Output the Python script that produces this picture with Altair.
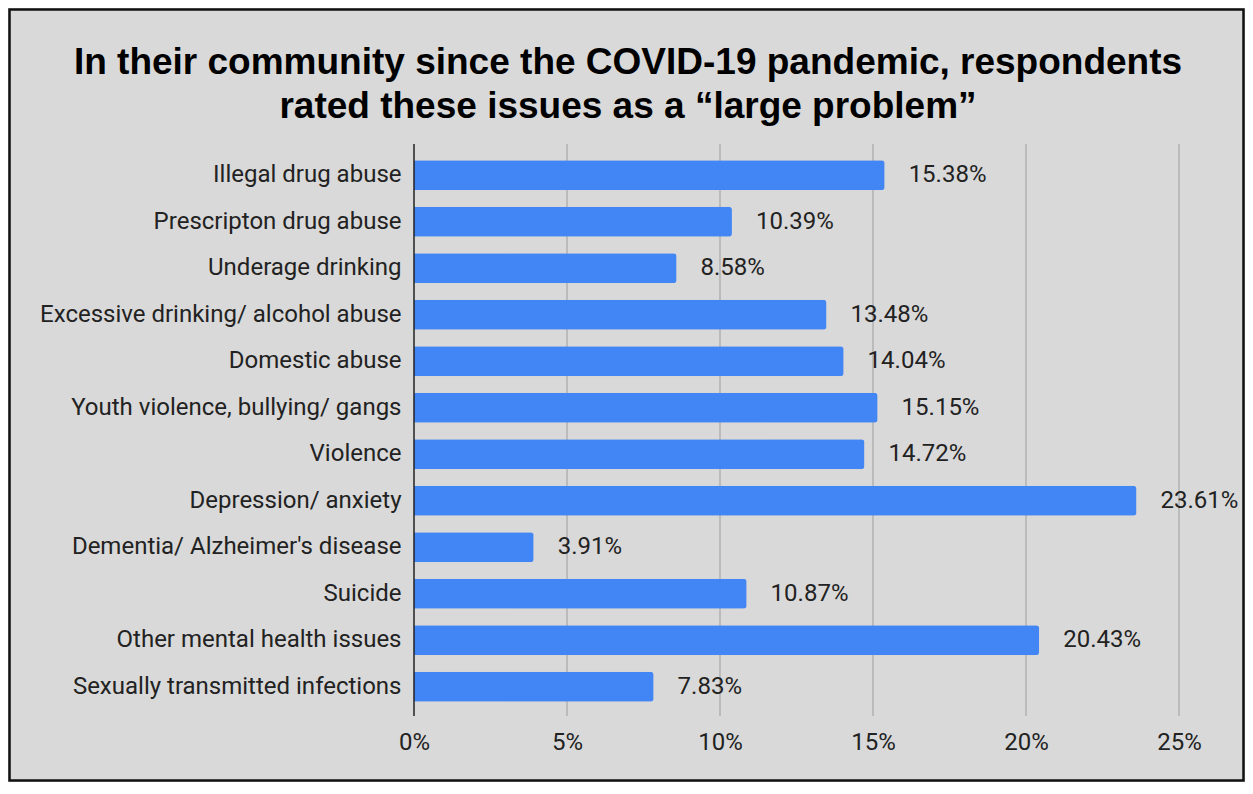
import altair as alt
import pandas as pd

categories = [
    "Illegal drug abuse",
    "Prescripton drug abuse",
    "Underage drinking",
    "Excessive drinking/ alcohol abuse",
    "Domestic abuse",
    "Youth violence, bullying/ gangs",
    "Violence",
    "Depression/ anxiety",
    "Dementia/ Alzheimer's disease",
    "Suicide",
    "Other mental health issues",
    "Sexually transmitted infections",
]
values = [0.1538, 0.1039, 0.0858, 0.1348, 0.1404, 0.1515, 0.1472, 0.2361, 0.0391, 0.1087, 0.2043, 0.0783]
tick_values = [0, 0.05, 0.10, 0.15, 0.20, 0.25]
title_lines = [
    "In their community since the COVID-19 pandemic, respondents",
    "rated these issues as a \u201clarge problem\u201d",
]

W, H = 765, 558
PL, PT = 406, 144
TOTAL_W, TOTAL_H = 1237, 774

df = pd.DataFrame({"issue": categories, "value": values})
grid_df = pd.DataFrame({"v": tick_values[1:]})
zero_df = pd.DataFrame({"v": [0]})

xscale = alt.Scale(domain=[0, 0.25], nice=False, clamp=False)
yscale = alt.Scale(paddingInner=0.355, paddingOuter=0.1775)

border = alt.Chart(pd.DataFrame({"a": [1]})).mark_rect(
    fill=None, filled=False, stroke="#111111", strokeWidth=2.5
).encode(
    x=alt.value(-PL + 1.5), x2=alt.value(TOTAL_W - PL - 1.5),
    y=alt.value(-PT + 1.5), y2=alt.value(TOTAL_H - PT - 1.5),
)

title = alt.Chart(pd.DataFrame({"a": [1]})).mark_text(
    text=title_lines, font="Liberation Sans", fontSize=37, fontWeight="bold",
    color="#000000", align="center", baseline="alphabetic", lineHeight=44,
).encode(
    x=alt.value(628 - 8 - PL), y=alt.value(74 - 8 - PT),
)

grid = alt.Chart(grid_df).mark_rule(color="#b0b0b0", strokeWidth=1.5).encode(
    x=alt.X("v:Q", scale=xscale),
    y=alt.value(-8), y2=alt.value(H + 6),
)

bars = alt.Chart(df).mark_bar(color="#4285f4", cornerRadiusEnd=3).encode(
    x=alt.X("value:Q", scale=xscale,
            axis=alt.Axis(values=tick_values, format=".0%", grid=False, ticks=False,
                          domain=False, labelFont="Roboto", labelFontSize=24,
                          labelFlush=False, labelAlign="center",
                          labelColor="#222222", labelPadding=20, title=None)),
    y=alt.Y("issue:N", sort=categories, scale=yscale,
            axis=alt.Axis(title=None, ticks=False, domain=False, grid=False,
                          labelFont="Roboto", labelFontSize=24, labelColor="#222222",
                          labelPadding=13, labelLimit=400)),
)

zero = alt.Chart(zero_df).mark_rule(color="#222222", strokeWidth=1.5).encode(
    x=alt.X("v:Q", scale=xscale),
    y=alt.value(-8), y2=alt.value(H + 6),
)

labels = alt.Chart(df).mark_text(
    align="left", baseline="middle", dx=24, font="Roboto", fontSize=24, color="#222222"
).encode(
    x=alt.X("value:Q", scale=xscale),
    y=alt.Y("issue:N", sort=categories, scale=yscale),
    text=alt.Text("value:Q", format=".2%"),
)

chart = alt.layer(border, title, grid, bars, zero, labels).properties(
    width=W, height=H,
    autosize=alt.AutoSizeParams(type="none"),
    padding={"left": PL, "top": PT, "right": TOTAL_W - PL - W, "bottom": TOTAL_H - PT - H},
).configure(background="#d9d9d9").configure_view(stroke=None)

chart.save("out.html", embed_options={"renderer": "svg", "actions": False})
